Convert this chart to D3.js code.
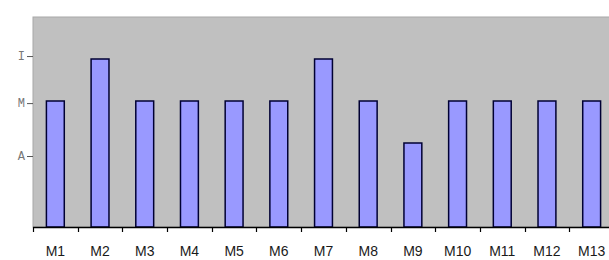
<!DOCTYPE html>
<html lang="en">
<head>
    <meta charset="UTF-8">
    <title>Bar chart</title>
    <script src="https://d3js.org/d3.v7.min.js"></script>
    <style>
        body { margin: 0; background: #fff; }
        svg { display: block; }
    </style>
</head>
<body>
    <div id="chart"></div>
    <script>
        // Data
        const categories = ["M1", "M2", "M3", "M4", "M5", "M6", "M7", "M8", "M9", "M10", "M11", "M12", "M13"];
        const values = [3, 4, 3, 3, 3, 3, 4, 3, 2, 3, 3, 3, 3];
        const yTickValues = [1.69, 2.95, 4.07];
        const yTickLabels = ["A", "M", "I"];

        const width = 609, height = 260;
        const plotLeft = 33, plotTop = 17, plotBottom = 227, plotRight = 614;

        const svg = d3.select("#chart")
            .append("svg")
            .attr("width", width)
            .attr("height", height);

        const x = d3.scaleBand()
            .domain(categories)
            .range([plotLeft, plotRight])
            .padding(0);

        const y = d3.scaleLinear()
            .domain([0, 5])
            .range([plotBottom, plotTop]);

        // Plot background
        svg.append("rect")
            .attr("x", plotLeft)
            .attr("y", plotTop)
            .attr("width", plotRight - plotLeft)
            .attr("height", plotBottom - plotTop)
            .attr("fill", "#c0c0c0")
            .attr("stroke", "#a8a8a8")
            .attr("stroke-width", 1);

        // Bars
        const bw = x.bandwidth() * 0.4;
        svg.append("g")
            .selectAll("rect")
            .data(categories)
            .enter()
            .append("rect")
            .attr("x", d => x(d) + (x.bandwidth() - bw) / 2)
            .attr("y", (d, i) => y(values[i]))
            .attr("width", bw)
            .attr("height", (d, i) => plotBottom - y(values[i]))
            .attr("fill", "#9999ff")
            .attr("stroke", "#000033")
            .attr("stroke-width", 1.5);

        // Y axis ticks
        const yAxis = d3.axisLeft(y)
            .tickValues(yTickValues)
            .tickFormat((d, i) => yTickLabels[i])
            .tickSize(6)
            .tickPadding(2);
        const gy = svg.append("g")
            .attr("transform", `translate(${plotLeft},0)`)
            .call(yAxis);
        gy.select(".domain").remove();
        gy.selectAll(".tick line").attr("stroke", "#555");
        gy.selectAll(".tick text")
            .attr("font-family", "'Liberation Mono', 'Courier New', monospace")
            .attr("font-size", 12)
            .attr("fill", "#777");

        // X axis: labels at band centres, ticks at band edges
        const xAxis = d3.axisBottom(x).tickSize(0).tickPadding(19);
        const gx = svg.append("g")
            .attr("transform", `translate(0,${plotBottom})`)
            .call(xAxis);
        gx.select(".domain").remove();
        gx.selectAll(".tick text")
            .attr("font-family", "'Liberation Sans', Arial, sans-serif")
            .attr("font-size", 14)
            .attr("fill", "#1a1a1a");

        svg.append("line")
            .attr("x1", plotLeft)
            .attr("x2", width)
            .attr("y1", plotBottom + 0.5)
            .attr("y2", plotBottom + 0.5)
            .attr("stroke", "#000")
            .attr("stroke-width", 1.5);

        const edges = categories.map(d => x(d)).concat([plotRight]);
        svg.append("g")
            .selectAll("line")
            .data(edges)
            .enter()
            .append("line")
            .attr("x1", d => Math.round(d) + 0.5)
            .attr("x2", d => Math.round(d) + 0.5)
            .attr("y1", plotBottom)
            .attr("y2", plotBottom + 5)
            .attr("stroke", "#000")
            .attr("stroke-width", 1.2);
    </script>
</body>
</html>
